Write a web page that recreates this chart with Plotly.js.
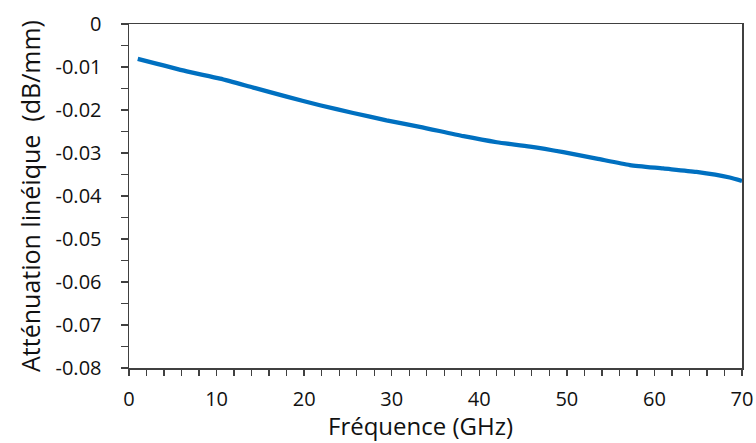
<!DOCTYPE html>
<html>
<head>
<meta charset="utf-8">
<script src="https://cdn.plot.ly/plotly-3.0.1.min.js"></script>
<style>html,body{margin:0;padding:0;background:#fff;}#chart{width:756px;height:443px;}</style>
</head>
<body>
<div id="chart"></div>
<script>
// Data
const frequencyGHz = [1, 6.6, 10.4, 14.2, 18.0, 21.8, 25.6, 29.4, 33.2, 38.2, 42.0, 45.8, 49.6, 53.4, 57.2, 61.0, 64.8, 68.6, 70];
const attenuation = [-0.0081, -0.0110, -0.0127, -0.0148, -0.0169, -0.0189, -0.0207, -0.0224, -0.0239, -0.0261, -0.0275, -0.0285, -0.0298, -0.0313, -0.0328, -0.0336, -0.0344, -0.0357, -0.0365];
const xTickVals = [0, 10, 20, 30, 40, 50, 60, 70];
const xTickText = ["0", "10", "20", "30", "40", "50", "60", "70"];
const yTickVals = [0, -0.01, -0.02, -0.03, -0.04, -0.05, -0.06, -0.07, -0.08];
const yTickText = ["0", "-0.01", "-0.02", "-0.03", "-0.04", "-0.05", "-0.06", "-0.07", "-0.08"];
const xTitle = "Fréquence (GHz)";
const yTitle = "Atténuation linéique  (dB/mm)";

const fontFam = "'Open Sans', sans-serif";
const axisCol = "#404040";

Plotly.newPlot("chart", [{
  x: frequencyGHz,
  y: attenuation,
  type: "scatter",
  mode: "lines",
  line: {color: "#0070C0", width: 4.3, shape: "spline", smoothing: 0.6},
  hoverinfo: "skip"
}], {
  width: 756, height: 443,
  margin: {l: 129, r: 14, t: 24, b: 75, pad: 0},
  paper_bgcolor: "#fff", plot_bgcolor: "#fff",
  showlegend: false,
  font: {family: fontFam, color: "#000"},
  xaxis: {
    range: [0, 70], showgrid: false, zeroline: false,
    showline: true, linecolor: axisCol, linewidth: 1.5, mirror: true,
    tickmode: "array", tickvals: xTickVals, ticktext: xTickText,
    ticks: "outside", ticklen: 6, tickwidth: 1.3, tickcolor: axisCol,
    minor: {dtick: 2, ticks: "outside", ticklen: 6, tickwidth: 1.3, tickcolor: axisCol, showgrid: false},
    tickfont: {size: 20, family: fontFam, color: "#111"},
    ticklabelstandoff: 6
  },
  yaxis: {
    range: [-0.08, 0], showgrid: false, zeroline: false,
    showline: true, linecolor: axisCol, linewidth: 1.5, mirror: true,
    tickmode: "array", tickvals: yTickVals, ticktext: yTickText,
    ticks: "outside", ticklen: 7, tickwidth: 1.3, tickcolor: axisCol,
    minor: {dtick: 0.005, ticks: "outside", ticklen: 7, tickwidth: 1.3, tickcolor: axisCol, showgrid: false},
    tickfont: {size: 20, family: fontFam, color: "#111"},
    ticklabelstandoff: 15,
    title: {text: yTitle, font: {size: 25, family: fontFam, color: "#111"}, standoff: 8}
  },
  annotations: [{
    text: xTitle, xref: "paper", yref: "paper", x: (420 - 129) / 613, y: 0,
    xanchor: "center", yanchor: "bottom", yshift: -75, showarrow: false,
    borderpad: 0, font: {size: 24, family: fontFam, color: "#111"}
  }]
}, {staticPlot: true, displayModeBar: false});
</script>
</body>
</html>
